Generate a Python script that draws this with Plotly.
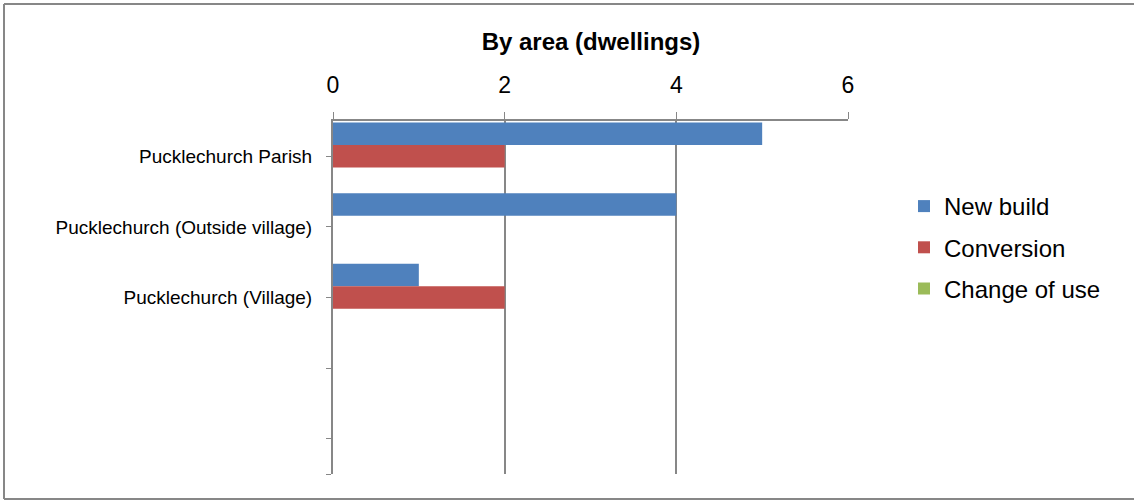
import plotly.graph_objects as go

categories = ["Pucklechurch Parish", "Pucklechurch (Outside village)", "Pucklechurch (Village)", "", ""]
new_build = [5, 4, 1]
conversion = [2, 0, 2]
change_of_use = [0, 0, 0]
series_names = ["New build", "Conversion", "Change of use"]
series_colors = ["#4F81BD", "#C0504D", "#9BBB59"]
x_ticks = [0, 2, 4, 6]

positions = list(range(len(categories)))
FONT = "Arial, Liberation Sans, sans-serif"
GRAY = "#878787"

fig = go.Figure()
for name, vals, col in zip(series_names, [new_build, conversion, change_of_use], series_colors):
    fig.add_trace(go.Bar(
        x=vals, y=positions[:len(vals)], orientation="h", name=name,
        marker=dict(color=col, line=dict(width=0)), legendgroup=name,
    ))

# outer chart border: left, top and bottom edges (right edge lies outside the picture)
bx0, bx1 = (4-333)/515, (1134-333)/515
by0, by1 = (474-499)/353, (474-4)/353
border = [
    dict(type="line", xref="paper", yref="paper", x0=bx0, x1=bx0, y0=by0, y1=by1,
         line=dict(color=GRAY, width=2), layer="below"),
    dict(type="line", xref="paper", yref="paper", x0=bx0, x1=bx1, y0=by1, y1=by1,
         line=dict(color=GRAY, width=2), layer="below"),
    dict(type="line", xref="paper", yref="paper", x0=bx0, x1=bx1, y0=by0, y1=by0,
         line=dict(color=GRAY, width=2), layer="below"),
]

fig.update_layout(
    width=1134, height=501,
    margin=dict(l=333, r=286, t=121, b=27),
    paper_bgcolor="white", plot_bgcolor="white",
    barmode="group", bargap=0.045, bargroupgap=0,
    font=dict(family=FONT, color="black"),
    title=dict(text="<b>By area (dwellings)</b>", font=dict(size=24, family=FONT, color="black"),
               x=591/1134, xref="container", xanchor="center",
               y=1-42/501, yref="container", yanchor="middle"),
    legend=dict(x=(904-333)/515, xanchor="left", y=(474-184)/353, yanchor="top",
                font=dict(size=24, family=FONT), tracegroupgap=7, itemwidth=30,
                bgcolor="rgba(0,0,0,0)"),
    xaxis=dict(side="top", range=[0, 6], tickvals=x_ticks, ticktext=[str(v) for v in x_ticks],
               showgrid=True, gridcolor=GRAY, gridwidth=2, zeroline=False,
               showline=True, linecolor=GRAY, linewidth=2,
               ticks="outside", ticklen=7, tickcolor=GRAY, tickwidth=1,
               ticklabelstandoff=10, tickfont=dict(size=23, family=FONT, color="black")),
    yaxis=dict(range=[len(categories)-0.5, -0.5],
               tickvals=positions + [len(categories)-0.5],
               ticktext=categories + [""],
               showgrid=False, zeroline=False,
               showline=True, linecolor=GRAY, linewidth=2,
               ticks="outside", ticklen=5, tickcolor=GRAY, tickwidth=1,
               ticklabelstandoff=10, tickfont=dict(size=19, family=FONT, color="black")),
    shapes=border,
)

fig.write_html("out.html", config={"displayModeBar": False},
               post_script="document.body.style.margin='0';document.body.style.padding='0';")
